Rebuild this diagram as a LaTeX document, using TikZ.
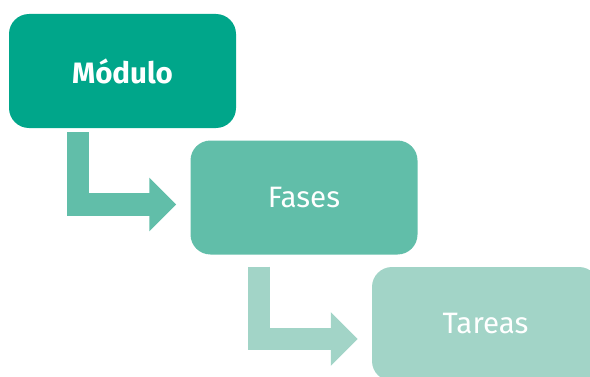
\documentclass[tikz,border=0pt]{standalone}
\usepackage{fontspec}
\setmainfont{Fira Sans}
\usetikzlibrary{arrows.meta}
\definecolor{tealdark}{HTML}{00A68A}
\definecolor{tealmid}{HTML}{61BEA9}
\definecolor{teallight}{HTML}{A2D4C7}
\tikzstyle{level}=[rounded corners=20pt, minimum width=227pt, minimum height=114pt, text=white, font=\fontsize{29.5}{32}\selectfont, inner sep=0]
\tikzstyle{flow}=[line width=22.5pt, line join=miter, -{Triangle[length=27pt, width=52pt]}]

\begin{document}
\begin{tikzpicture}[x=1pt, y=1pt]
      \useasboundingbox (0, 0) rectangle (590, 376);
      \clip (0, 0) rectangle (590, 376);

      \node[level, fill=tealdark, font=\fontsize{29.5}{32}\selectfont\bfseries] (modulo) at (122.5, 305) {Módulo};
      \node[level, fill=tealmid] (fases) at (304, 178.5) {Fases};
      \node[level, fill=teallight] (tareas) at (485.5, 52) {Tareas};

      \coordinate (a_in) at ([xshift=69pt, yshift=-4pt] modulo.south west);
      \coordinate (a_out) at ([xshift=-14pt, yshift=-7pt] fases.west);
      \coordinate (b_in) at ([xshift=68.5pt, yshift=-12pt] fases.south west);
      \coordinate (b_out) at ([xshift=-14pt, yshift=-15pt] tareas.west);

      \draw[flow, tealmid] (a_in) |- (a_out);
      \draw[flow, teallight] (b_in) |- (b_out);
    \end{tikzpicture}
\end{document}
